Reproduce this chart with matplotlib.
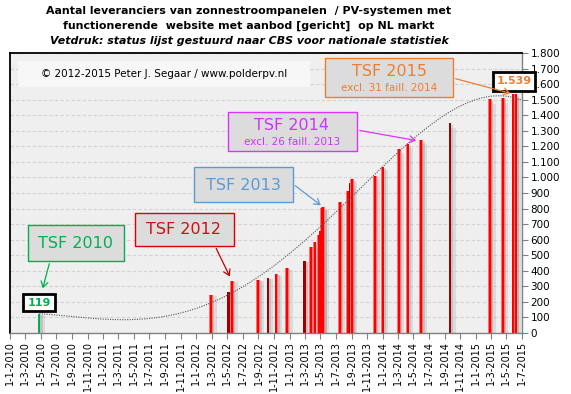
import matplotlib.pyplot as plt
import matplotlib.dates as mdates
from matplotlib.patches import Rectangle, FancyArrowPatch
import numpy as np
import datetime as dt

W, H = 571, 394

dates = ['2010-04-26', '2012-02-28', '2012-05-07', '2012-05-20', '2012-08-31', '2012-10-07',
         '2012-11-10', '2012-12-22', '2013-02-28', '2013-03-25', '2013-04-09', '2013-04-26',
         '2013-05-02', '2013-05-07', '2013-05-13', '2013-07-17', '2013-08-18', '2013-08-28',
         '2013-09-02', '2013-12-01', '2014-01-01', '2014-03-05', '2014-04-09', '2014-06-01',
         '2014-09-22', '2015-02-26', '2015-04-17', '2015-05-28', '2015-06-06']
values = [119, 245, 261, 336, 339, 353, 377, 416, 463, 551, 585, 630, 657, 801, 808, 840,
          915, 966, 988, 1010, 1069, 1184, 1213, 1240, 1348, 1504, 1512, 1535, 1539]
# 'g' = green (TSF 2010), 'd' = dark red (bold: sent to CBS), 'r' = red
kinds = ['g', 'r', 'd', 'r', 'r', 'd', 'r', 'r', 'd', 'r', 'r', 'r', 'r', 'r', 'r', 'r',
         'r', 'd', 'r', 'r', 'r', 'r', 'r', 'r', 'd', 'r', 'r', 'r', 'r']

title_lines = ['Aantal leveranciers van zonnestroompanelen  / PV-systemen met',
               'functionerende  website met aanbod [gericht]  op NL markt']
subtitle = 'Vetdruk: status lijst gestuurd naar CBS voor nationale statistiek'


def px(x, y):
    return x / W, 1 - y / H


x = mdates.date2num([dt.date.fromisoformat(d) for d in dates])
v = np.array(values)

fig = plt.figure(figsize=(W / 100, H / 100), dpi=100)
l, t = px(10, 53)
r, b = px(522, 333)
ax = fig.add_axes([l, b, r - l, t - b])
ax.set_facecolor('#efefef')

x0 = mdates.date2num(dt.date(2010, 1, 1))
x1 = mdates.date2num(dt.date(2015, 7, 1))
ax.set_xlim(x0, x1)
ax.set_ylim(0, 1800)

# gridlines
ax.set_yticks(np.arange(0, 1801, 100))
ax.yaxis.grid(True, linestyle=(0, (3, 2)), color='#d2d2d2', linewidth=0.8, zorder=0)
ax.set_axisbelow(True)

# bars with shadow
for xi, vi, k in zip(x, v, kinds):
    ax.bar(xi + 12, vi * 0.98, width=20, color='#a0a0a0', alpha=0.25, linewidth=0, zorder=1)
    ax.bar(xi + 8, vi * 0.99, width=10, color='#8a8a8a', alpha=0.3, linewidth=0, zorder=1)
    if k == 'g':
        ax.bar(xi, vi, width=9, color='#00b050', linewidth=0, zorder=2)
    elif k == 'd':
        ax.bar(xi, vi, width=9, color='#a00000', linewidth=0, zorder=2)
    else:
        ax.bar(xi, vi, width=14, color='#ff7070', linewidth=0, zorder=2)
        ax.bar(xi, vi, width=8, color='#ff0000', linewidth=0, zorder=3)

# polynomial trendline (fit on the data)
sx = (x - x0) / 1000
coef = np.polyfit(sx, v, 4)
xs = np.linspace(x[0], x1, 300)
ax.plot(xs, np.polyval(coef, (xs - x0) / 1000), linestyle=(0, (1, 1.2)), color='#555555',
        linewidth=0.8, zorder=4)

# x ticks every 2 months
ticks = [dt.date(y, m, 1) for y in range(2010, 2016) for m in (1, 3, 5, 7, 9, 11)
         if dt.date(y, m, 1) <= dt.date(2015, 7, 1)]
ax.set_xticks(mdates.date2num(ticks))
ax.set_xticklabels([f'{d.day}-{d.month}-{d.year}' for d in ticks], rotation=90, fontsize=7)
ax.yaxis.tick_right()
ax.set_yticklabels([f'{i:,}'.replace(',', '.') for i in range(0, 1801, 100)], fontsize=7.5)
ax.tick_params(axis='both', direction='out', length=4, color='#808080', pad=2)

for s in ['left', 'top']:
    ax.spines[s].set_color('black')
    ax.spines[s].set_linewidth(1.3)
for s in ['right', 'bottom']:
    ax.spines[s].set_color('#808080')
    ax.spines[s].set_linewidth(1.0)

# titles
fig.text(*px(249, 11), title_lines[0], ha='center', va='center', fontsize=7.9, fontweight='bold')
fig.text(*px(249, 26), title_lines[1], ha='center', va='center', fontsize=7.9, fontweight='bold')
fig.text(*px(249, 41), subtitle, ha='center', va='center', fontsize=7.9, fontweight='bold',
         style='italic')


def box(x0, y0, x1, y1, face, edge, lw=1.0):
    a, bb = px(x0, y1)
    c, d = px(x1, y0)
    fig.patches.append(Rectangle((a, bb), c - a, d - bb, transform=fig.transFigure,
                                 facecolor=face, edgecolor=edge, linewidth=lw, zorder=5))


def arrow(p0, p1, color):
    fig.add_artist(FancyArrowPatch(
        px(*p0), px(*p1), transform=fig.transFigure, arrowstyle='->,head_length=4,head_width=2.5',
        color=color, linewidth=0.9, zorder=6))


# copyright
box(18, 61, 310, 87, '#f7f7f7', 'none')
fig.text(*px(164, 74), '\u00a9 2012-2015 Peter J. Segaar / www.polderpv.nl', ha='center',
         va='center', fontsize=7.5, zorder=7)

# TSF boxes
box(28, 225, 124, 261, '#dcdcdc', '#00b050')
fig.text(*px(76, 243), 'TSF 2010', ha='center', va='center', fontsize=11.5, color='#00b050',
         zorder=7)
arrow((50, 261), (42, 291), '#00b050')

box(135, 213, 234, 246, '#dcdcdc', '#e00000')
fig.text(*px(184, 230), 'TSF 2012', ha='center', va='center', fontsize=11.5, color='#d01010',
         zorder=7)
arrow((215, 246), (231, 279), '#c00000')

box(194, 167, 293, 202, '#dcdcdc', '#5b9bd5')
fig.text(*px(243, 185), 'TSF 2013', ha='center', va='center', fontsize=11.5, color='#5b9bd5',
         zorder=7)
arrow((293, 184), (323, 207), '#5b9bd5')

box(228, 112, 357, 151, '#dcdcdc', '#dd33ff')
fig.text(*px(292, 126), 'TSF 2014', ha='center', va='center', fontsize=11.5, color='#cc33ff',
         zorder=7)
fig.text(*px(292, 142), 'excl. 26 faill. 2013', ha='center', va='center', fontsize=7.5,
         color='#cc33ff', zorder=7)
arrow((357, 130), (419, 141), '#dd33ff')

box(325, 58, 453, 97, '#dcdcdc', '#ed7d31')
fig.text(*px(389, 72), 'TSF 2015', ha='center', va='center', fontsize=11.5, color='#ed7d31',
         zorder=7)
fig.text(*px(389, 88), 'excl. 31 faill. 2014', ha='center', va='center', fontsize=7.5,
         color='#ed7d31', zorder=7)
arrow((453, 78), (513, 94), '#ed7d31')

# value labels
box(23, 294, 55, 311, 'white', 'black', lw=2)
fig.text(*px(39, 302.5), '119', ha='center', va='center', fontsize=8, fontweight='bold',
         color='#00b050', zorder=7)
box(493, 72, 535, 91, 'white', 'black', lw=2)
fig.text(*px(514, 81.5), '1.539', ha='center', va='center', fontsize=8, fontweight='bold',
         color='#ed7d31', zorder=7)

fig.savefig('out.png', dpi=100)
